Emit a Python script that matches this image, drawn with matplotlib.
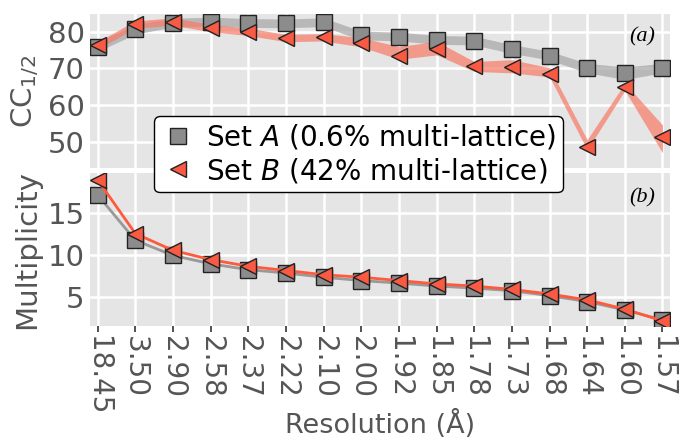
import numpy as np
import matplotlib.pyplot as plt

resolution = ['18.45', '3.50', '2.90', '2.58', '2.37', '2.22', '2.10', '2.00',
              '1.92', '1.85', '1.78', '1.73', '1.68', '1.64', '1.60', '1.57']

# CC1/2 (%) per resolution shell
cc_a = [75.9, 80.7, 82.5, 82.8, 82.4, 82.3, 82.6, 79.0,
        78.7, 77.8, 77.6, 75.3, 73.5, 70.1, 68.7, 70.1]
cc_a_lo = [74.6, 79.4, 81.3, 81.6, 81.2, 81.1, 81.4, 77.8,
           77.5, 76.6, 76.4, 74.1, 72.3, 68.8, 67.0, 68.8]
cc_a_hi = [77.2, 82.0, 83.7, 84.0, 83.6, 83.5, 83.8, 80.2,
           79.9, 79.0, 78.8, 76.5, 74.7, 71.4, 70.4, 71.4]

cc_b = [76.3, 82.0, 82.8, 81.0, 80.0, 78.3, 78.5, 77.0,
        73.3, 75.3, 70.7, 70.3, 68.6, 48.7, 64.9, 51.3]
cc_b_lo = [75.3, 81.0, 81.8, 80.0, 79.0, 77.3, 77.5, 75.9,
           72.5, 73.7, 69.2, 68.8, 67.7, 47.8, 64.0, 47.0]
cc_b_hi = [77.3, 83.0, 83.8, 82.0, 81.0, 79.3, 79.5, 78.4,
           76.0, 77.4, 71.9, 72.4, 70.2, 50.6, 66.0, 54.6]

mult_a = [17.1, 11.7, 9.9, 8.9, 8.2, 7.8, 7.3, 6.9,
          6.6, 6.25, 6.0, 5.7, 5.1, 4.4, 3.4, 2.2]
mult_b = [18.9, 12.5, 10.5, 9.4, 8.6, 8.1, 7.6, 7.3,
          6.9, 6.5, 6.25, 5.85, 5.3, 4.6, 3.5, 2.1]

label_a = 'Set $A$ (0.6% multi-lattice)'
label_b = 'Set $B$ (42% multi-lattice)'

gray = '#8c8c8c'
red = '#f95a43'
tick_gray = '#555555'

plt.rcParams['font.family'] = 'DejaVu Sans'
plt.rcParams['mathtext.fontset'] = 'dejavusans'

x = np.arange(len(resolution))

fig = plt.figure(figsize=(6.83, 4.44), dpi=100)
ax1 = fig.add_axes([0.132, 0.622, 0.849, 0.346])
ax2 = fig.add_axes([0.132, 0.266, 0.849, 0.344])

for ax in (ax1, ax2):
    ax.set_facecolor('#e5e5e5')
    for s in ax.spines.values():
        s.set_visible(False)
    ax.grid(True, color='white', linewidth=1.8)
    ax.set_axisbelow(True)
    ax.set_xticks(x)
    ax.set_xlim(-0.2, 15.2)
    ax.tick_params(axis='y', length=0, labelsize=21, labelcolor=tick_gray, pad=4)
    ax.tick_params(axis='x', length=4, width=1.2, color='#333333', direction='out',
                   labelsize=20, labelcolor=tick_gray, pad=3)

# (a) CC1/2
ax1.fill_between(x, cc_a_lo, cc_a_hi, color='#aaaaaa', alpha=0.75, lw=0, zorder=2)
ax1.fill_between(x, cc_b_lo, cc_b_hi, color='#f77a66', alpha=0.7, lw=0, zorder=3)
h_a, = ax1.plot(x, cc_a, ls='none', marker='s', ms=11, mfc=gray, mec='#222222',
                mew=1.0, zorder=4, label=label_a)
h_b, = ax1.plot(x, cc_b, ls='none', marker='<', ms=12, mfc=red, mec='#222222',
                mew=1.0, zorder=5, label=label_b)
ax1.set_ylim(42.9, 84.8)
ax1.set_yticks([50, 60, 70, 80])
ax1.tick_params(axis='x', labelbottom=False, length=0)
ax1.set_ylabel('CC$_{1/2}$', fontsize=21, color=tick_gray)
ax1.text(0.952, 0.85, '(a)', transform=ax1.transAxes, fontsize=16,
         family='Liberation Serif', style='italic', ha='center', va='center')

# (b) multiplicity
ax2.plot(x, mult_a, color='#999999', lw=2, marker='s', ms=11, mfc=gray,
         mec='#222222', mew=1.0, zorder=4)
ax2.plot(x, mult_b, color='#ff5a3c', lw=2, marker='<', ms=12, mfc=red,
         mec='#222222', mew=1.0, zorder=5)
ax2.set_ylim(1.5, 19.7)
ax2.set_yticks([5, 10, 15])
ax2.set_xticklabels(resolution, rotation=-90)
ax2.set_ylabel('Multiplicity', fontsize=21, color=tick_gray)
ax2.set_xlabel('Resolution (Å)', fontsize=19.5, color=tick_gray)
ax2.xaxis.set_label_coords(0.5, -0.55)
ax2.text(0.952, 0.84, '(b)', transform=ax2.transAxes, fontsize=16,
         family='Liberation Serif', style='italic', ha='center', va='center')

ax1.yaxis.set_label_coords(-0.085, 0.5)
ax2.yaxis.set_label_coords(-0.085, 0.5)

leg = fig.legend(handles=[h_a, h_b], loc='center', bbox_to_anchor=(0.525, 0.653),
                 fontsize=20, frameon=True, fancybox=True, framealpha=1.0,
                 edgecolor='black', handletextpad=0.4, borderpad=0.25,
                 labelspacing=0.15, handlelength=1.2)
leg.get_frame().set_linewidth(1.0)
leg.set_zorder(10)

fig.savefig('out.png', dpi=100)
